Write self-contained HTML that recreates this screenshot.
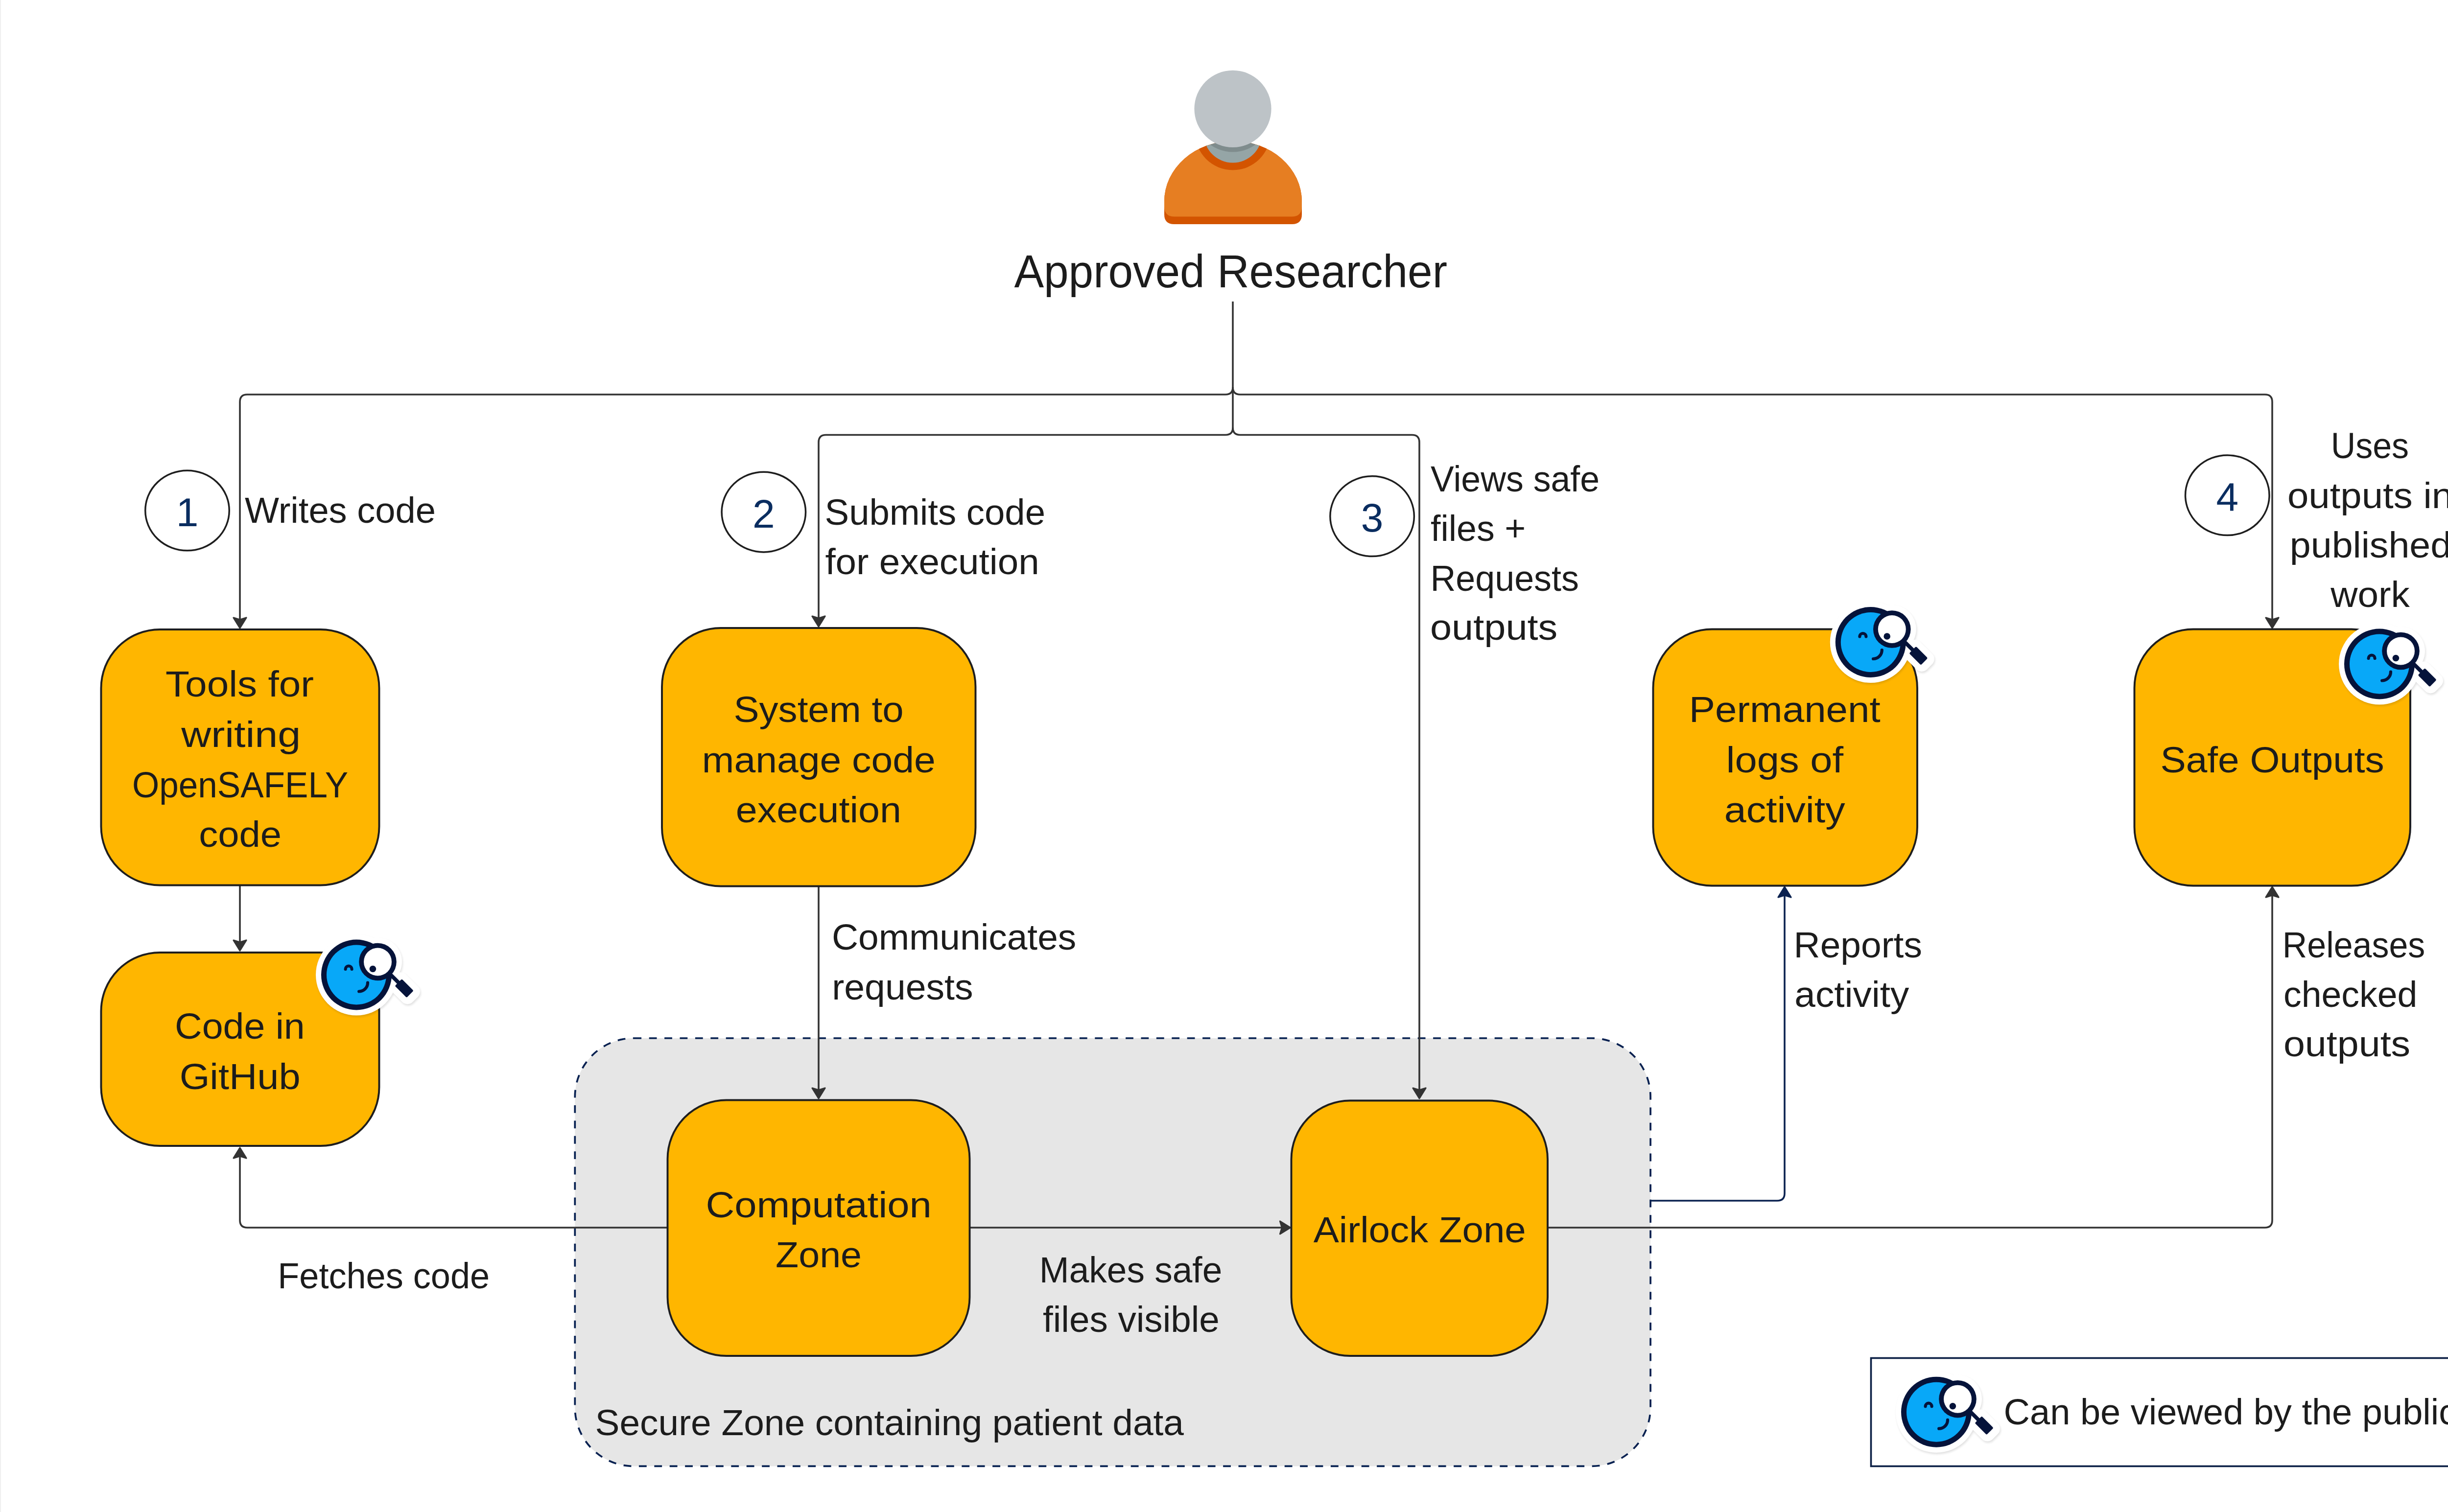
<!DOCTYPE html>
<html><head><meta charset="utf-8"><style>
html,body{margin:0;padding:0;background:#FFFFFF;}
body{width:5178px;height:3089px;overflow:hidden;position:relative;}
svg{position:absolute;left:0;top:0;}
text{font-family:"Liberation Sans", sans-serif;}
</style></head><body>
<svg width="5178" height="3089" viewBox="0 0 5178 3089">
<defs><filter id="blur" x="-20%" y="-20%" width="140%" height="140%"><feGaussianBlur stdDeviation="2"/></filter></defs>
<rect x="0" y="0" width="2" height="3089" fill="#F0F0F0"/>
<rect x="1174.3" y="2121" width="2196.8" height="874.4" rx="120" ry="120" fill="#E6E6E6" stroke="#062050" stroke-width="3.7" stroke-dasharray="15.8 15.6"/><path d="M2518,616 V873.5 Q2518,888.5 2503,888.5" fill="none" stroke="#333333" stroke-width="3.6" stroke-linejoin="round"/><path d="M2518,873.5 Q2518,888.5 2533,888.5" fill="none" stroke="#333333" stroke-width="3.6" stroke-linejoin="round"/><path d="M2518,791 Q2518,806 2503,806 H505 Q490,806 490,821 V1272" fill="none" stroke="#333333" stroke-width="3.6" stroke-linejoin="round"/><path d="M2518,791 Q2518,806 2533,806 H4626 Q4641,806 4641,821 V1272" fill="none" stroke="#333333" stroke-width="3.6" stroke-linejoin="round"/><path d="M490.0,1283.0 L477.0,1262.0 L490.0,1266.0 L503.0,1262.0 Z" fill="#333333" stroke="#333333" stroke-width="3.2" stroke-linejoin="round"/><path d="M4641.0,1283.0 L4628.0,1262.0 L4641.0,1266.0 L4654.0,1262.0 Z" fill="#333333" stroke="#333333" stroke-width="3.2" stroke-linejoin="round"/><path d="M2503,888.5 H1687 Q1672,888.5 1672,903.5 V1270" fill="none" stroke="#333333" stroke-width="3.6" stroke-linejoin="round"/><path d="M2533,888.5 H2884 Q2899,888.5 2899,903.5 V2234" fill="none" stroke="#333333" stroke-width="3.6" stroke-linejoin="round"/><path d="M1672.0,1280.0 L1659.0,1259.0 L1672.0,1263.0 L1685.0,1259.0 Z" fill="#333333" stroke="#333333" stroke-width="3.2" stroke-linejoin="round"/><path d="M2899.0,2244.0 L2886.0,2223.0 L2899.0,2227.0 L2912.0,2223.0 Z" fill="#333333" stroke="#333333" stroke-width="3.2" stroke-linejoin="round"/><path d="M490,1810 V1932" fill="none" stroke="#333333" stroke-width="3.6" stroke-linejoin="round"/><path d="M490.0,1942.0 L477.0,1921.0 L490.0,1925.0 L503.0,1921.0 Z" fill="#333333" stroke="#333333" stroke-width="3.2" stroke-linejoin="round"/><path d="M1672,1812 V2234" fill="none" stroke="#333333" stroke-width="3.6" stroke-linejoin="round"/><path d="M1672.0,2244.0 L1659.0,2223.0 L1672.0,2227.0 L1685.0,2223.0 Z" fill="#333333" stroke="#333333" stroke-width="3.2" stroke-linejoin="round"/><path d="M1362,2508 H505 Q490,2508 490,2493 V2354" fill="none" stroke="#333333" stroke-width="3.6" stroke-linejoin="round"/><path d="M490.0,2345.0 L477.0,2366.0 L490.0,2362.0 L503.0,2366.0 Z" fill="#333333" stroke="#333333" stroke-width="3.2" stroke-linejoin="round"/><path d="M1981,2508 H2626" fill="none" stroke="#333333" stroke-width="3.6" stroke-linejoin="round"/><path d="M2635.5,2508.0 L2614.5,2495.0 L2618.5,2508.0 L2614.5,2521.0 Z" fill="#333333" stroke="#333333" stroke-width="3.2" stroke-linejoin="round"/><path d="M3161,2508 H4626 Q4641,2508 4641,2493 V1822" fill="none" stroke="#333333" stroke-width="3.6" stroke-linejoin="round"/><path d="M4641.0,1812.0 L4628.0,1833.0 L4641.0,1829.0 L4654.0,1833.0 Z" fill="#333333" stroke="#333333" stroke-width="3.2" stroke-linejoin="round"/><path d="M3373,2453 H3630 Q3645,2453 3645,2438 V1822" fill="none" stroke="#0B2250" stroke-width="3.6" stroke-linejoin="round"/><path d="M3645.0,1812.0 L3632.0,1833.0 L3645.0,1829.0 L3658.0,1833.0 Z" fill="#0B2250" stroke="#0B2250" stroke-width="3.2" stroke-linejoin="round"/><ellipse cx="382.5" cy="1043" rx="85.75" ry="81.85" fill="#FFFFFF" stroke="#1E1E1E" stroke-width="3.5"/><ellipse cx="1559.8" cy="1046.1" rx="85.75" ry="81.85" fill="#FFFFFF" stroke="#1E1E1E" stroke-width="3.5"/><ellipse cx="2802.6" cy="1054.7" rx="85.75" ry="81.85" fill="#FFFFFF" stroke="#1E1E1E" stroke-width="3.5"/><ellipse cx="4549.3" cy="1011.75" rx="85.75" ry="81.85" fill="#FFFFFF" stroke="#1E1E1E" stroke-width="3.5"/><rect x="206.5" y="1286" width="568.0" height="522.5" rx="120" ry="120" fill="#FFB600" stroke="#1E1E1E" stroke-width="3.9"/><rect x="206.5" y="1946" width="568.0" height="395" rx="120" ry="120" fill="#FFB600" stroke="#1E1E1E" stroke-width="3.9"/><rect x="1352" y="1283" width="640.5" height="527.5" rx="120" ry="120" fill="#FFB600" stroke="#1E1E1E" stroke-width="3.9"/><rect x="3376.5" y="1285.5" width="539.5" height="524.0" rx="120" ry="120" fill="#FFB600" stroke="#1E1E1E" stroke-width="3.9"/><rect x="4359.5" y="1285.5" width="563.5" height="524.0" rx="120" ry="120" fill="#FFB600" stroke="#1E1E1E" stroke-width="3.9"/><rect x="1363.5" y="2247.5" width="617.0" height="522.5" rx="120" ry="120" fill="#FFB600" stroke="#1E1E1E" stroke-width="3.9"/><rect x="2637.5" y="2248.5" width="523.5" height="521.5" rx="120" ry="120" fill="#FFB600" stroke="#1E1E1E" stroke-width="3.9"/><rect x="3821.5" y="2774.5" width="1243.3" height="221.0" fill="#FFFFFF" stroke="#0B1F45" stroke-width="3.6"/><text x="2071.40" y="586.5" font-size="94" fill="#1C1C1C" textLength="884.59" lengthAdjust="spacingAndGlyphs">Approved Researcher</text><text x="500.00" y="1068.0" font-size="74" fill="#1C1C1C" textLength="390.05" lengthAdjust="spacingAndGlyphs">Writes code</text><text x="1684.54" y="1071.8" font-size="74" fill="#1C1C1C" textLength="450.55" lengthAdjust="spacingAndGlyphs">Submits code</text><text x="1685.40" y="1172.8" font-size="74" fill="#1C1C1C" textLength="437.26" lengthAdjust="spacingAndGlyphs">for execution</text><text x="2921.99" y="1004.0" font-size="74" fill="#1C1C1C" textLength="345.04" lengthAdjust="spacingAndGlyphs">Views safe</text><text x="2921.99" y="1105.0" font-size="74" fill="#1C1C1C" textLength="194.27" lengthAdjust="spacingAndGlyphs">files +</text><text x="2921.43" y="1206.5" font-size="74" fill="#1C1C1C" textLength="303.45" lengthAdjust="spacingAndGlyphs">Requests</text><text x="2920.94" y="1307.3" font-size="74" fill="#1C1C1C" textLength="260.37" lengthAdjust="spacingAndGlyphs">outputs</text><text x="4760.76" y="935.5" font-size="74" fill="#1C1C1C" textLength="159.35" lengthAdjust="spacingAndGlyphs">Uses</text><text x="4671.93" y="1037.8" font-size="74" fill="#1C1C1C" textLength="338.19" lengthAdjust="spacingAndGlyphs">outputs in</text><text x="4676.84" y="1139.0" font-size="74" fill="#1C1C1C" textLength="330.33" lengthAdjust="spacingAndGlyphs">published</text><text x="4760.21" y="1240.0" font-size="74" fill="#1C1C1C" textLength="161.63" lengthAdjust="spacingAndGlyphs">work</text><text x="337.99" y="1423.3" font-size="74" fill="#1C1C1C" textLength="302.98" lengthAdjust="spacingAndGlyphs">Tools for</text><text x="370.21" y="1525.7" font-size="74" fill="#1C1C1C" textLength="243.94" lengthAdjust="spacingAndGlyphs">writing</text><text x="269.96" y="1628.9" font-size="74" fill="#1C1C1C" textLength="441.08" lengthAdjust="spacingAndGlyphs">OpenSAFELY</text><text x="406.26" y="1730.0" font-size="74" fill="#1C1C1C" textLength="168.65" lengthAdjust="spacingAndGlyphs">code</text><text x="357.06" y="2122.1" font-size="74" fill="#1C1C1C" textLength="265.66" lengthAdjust="spacingAndGlyphs">Code in</text><text x="366.67" y="2225.2" font-size="74" fill="#1C1C1C" textLength="246.85" lengthAdjust="spacingAndGlyphs">GitHub</text><text x="1498.51" y="1475.4" font-size="74" fill="#1C1C1C" textLength="347.14" lengthAdjust="spacingAndGlyphs">System to</text><text x="1433.89" y="1578.4" font-size="74" fill="#1C1C1C" textLength="476.81" lengthAdjust="spacingAndGlyphs">manage code</text><text x="1502.71" y="1679.8" font-size="74" fill="#1C1C1C" textLength="338.17" lengthAdjust="spacingAndGlyphs">execution</text><text x="3449.67" y="1474.5" font-size="74" fill="#1C1C1C" textLength="391.10" lengthAdjust="spacingAndGlyphs">Permanent</text><text x="3525.49" y="1577.8" font-size="74" fill="#1C1C1C" textLength="239.70" lengthAdjust="spacingAndGlyphs">logs of</text><text x="3521.73" y="1679.5" font-size="74" fill="#1C1C1C" textLength="246.82" lengthAdjust="spacingAndGlyphs">activity</text><text x="4412.55" y="1578.1" font-size="74" fill="#1C1C1C" textLength="457.13" lengthAdjust="spacingAndGlyphs">Safe Outputs</text><text x="1698.94" y="1940.0" font-size="74" fill="#1C1C1C" textLength="499.30" lengthAdjust="spacingAndGlyphs">Communicates</text><text x="1699.28" y="2042.2" font-size="74" fill="#1C1C1C" textLength="288.23" lengthAdjust="spacingAndGlyphs">requests</text><text x="1441.50" y="2487.1" font-size="74" fill="#1C1C1C" textLength="461.17" lengthAdjust="spacingAndGlyphs">Computation</text><text x="1584.11" y="2589.4" font-size="74" fill="#1C1C1C" textLength="175.95" lengthAdjust="spacingAndGlyphs">Zone</text><text x="2122.87" y="2619.7" font-size="74" fill="#1C1C1C" textLength="373.39" lengthAdjust="spacingAndGlyphs">Makes safe</text><text x="2129.99" y="2720.9" font-size="74" fill="#1C1C1C" textLength="360.84" lengthAdjust="spacingAndGlyphs">files visible</text><text x="2682.79" y="2537.5" font-size="74" fill="#1C1C1C" textLength="434.01" lengthAdjust="spacingAndGlyphs">Airlock Zone</text><text x="1215.59" y="2932.3" font-size="74" fill="#1C1C1C" textLength="1202.35" lengthAdjust="spacingAndGlyphs">Secure Zone containing patient data</text><text x="567.27" y="2631.7" font-size="74" fill="#1C1C1C" textLength="432.84" lengthAdjust="spacingAndGlyphs">Fetches code</text><text x="3663.58" y="1956.3" font-size="74" fill="#1C1C1C" textLength="262.31" lengthAdjust="spacingAndGlyphs">Reports</text><text x="3665.34" y="2056.7" font-size="74" fill="#1C1C1C" textLength="233.81" lengthAdjust="spacingAndGlyphs">activity</text><text x="4661.83" y="1956.3" font-size="74" fill="#1C1C1C" textLength="291.44" lengthAdjust="spacingAndGlyphs">Releases</text><text x="4663.93" y="2056.7" font-size="74" fill="#1C1C1C" textLength="273.45" lengthAdjust="spacingAndGlyphs">checked</text><text x="4663.91" y="2157.9" font-size="74" fill="#1C1C1C" textLength="259.19" lengthAdjust="spacingAndGlyphs">outputs</text><text x="4092.58" y="2909.5" font-size="74" fill="#1C1C1C" textLength="925.61" lengthAdjust="spacingAndGlyphs">Can be viewed by the public</text><text x="382.5" y="1074.7" text-anchor="middle" font-size="82" fill="#0A2D60">1</text><text x="1559.8" y="1077.8" text-anchor="middle" font-size="82" fill="#0A2D60">2</text><text x="2802.6" y="1086.4" text-anchor="middle" font-size="82" fill="#0A2D60">3</text><text x="4549.3" y="1043.5" text-anchor="middle" font-size="82" fill="#0A2D60">4</text>
<defs>
 <clipPath id="bodyclip"><path d="M2378,458 V411.7 A140.5,123.7 0 0 1 2659,411.7 V458 Z"/></clipPath>
 <clipPath id="neckclip"><circle cx="2518" cy="273" r="59.5"/></clipPath>
</defs>
<path d="M2378,438 V411.7 A140.5,123.7 0 0 1 2659,411.7 V438 Q2659,458 2639,458 H2398 Q2378,458 2378,438 Z" fill="#D35400"/>
<path d="M2378,422 V411.7 A140.5,123.7 0 0 1 2659,411.7 V422 Q2659,442.5 2638.5,442.5 H2398.5 Q2378,442.5 2378,422 Z" fill="#E67E22"/>
<g clip-path="url(#bodyclip)">
 <circle cx="2518" cy="270.5" r="77" fill="#D35400"/>
 <circle cx="2518" cy="273" r="59.5" fill="#95A5A6"/>
 <g clip-path="url(#neckclip)"><circle cx="2518" cy="232" r="78.6" fill="#7F8C8D"/></g>
</g>
<circle cx="2518" cy="222.3" r="78.6" fill="#BDC3C7"/>
<g transform="translate(728,1991.5) scale(1.0)"><g fill="#000" opacity="0.12" transform="translate(1.5,3)" filter="url(#blur)"><circle cx="0" cy="0" r="83"/><circle cx="43.5" cy="-26.5" r="49.5"/><rect x="44" y="-22.5" width="64.5" height="45" rx="15" transform="translate(43.5,-26.5) rotate(45)"/></g><g fill="#FFFFFF"><circle cx="0" cy="0" r="83"/><circle cx="43.5" cy="-26.5" r="49.5"/><rect x="44" y="-22.5" width="64.5" height="45" rx="15" transform="translate(43.5,-26.5) rotate(45)"/></g><circle cx="0" cy="0" r="72" fill="#05133A"/><circle cx="0" cy="0" r="61" fill="#08A8F8"/><path d="M-22.4,-11.5 A6.5,6.5 0 0 1 -9.4,-11.5" fill="none" stroke="#05133A" stroke-width="6.2" stroke-linecap="round"/><path d="M5.2,34 A17.8,17.8 0 0 0 23,16.2" fill="none" stroke="#05133A" stroke-width="6.2" stroke-linecap="round"/><g transform="translate(43.5,-26.5) rotate(45)"><rect x="30" y="-3.9" width="32" height="7.8" fill="#05133A"/><rect x="59.5" y="-10" width="34" height="20" rx="2.5" fill="#05133A"/></g><circle cx="43.5" cy="-26.5" r="38.3" fill="#05133A"/><circle cx="43.5" cy="-26.5" r="28.5" fill="#FFFFFF"/><circle cx="33.4" cy="-12" r="6.8" fill="#05133A"/></g><g transform="translate(3820.8,1312) scale(1.0)"><g fill="#000" opacity="0.12" transform="translate(1.5,3)" filter="url(#blur)"><circle cx="0" cy="0" r="83"/><circle cx="43.5" cy="-26.5" r="49.5"/><rect x="44" y="-22.5" width="64.5" height="45" rx="15" transform="translate(43.5,-26.5) rotate(45)"/></g><g fill="#FFFFFF"><circle cx="0" cy="0" r="83"/><circle cx="43.5" cy="-26.5" r="49.5"/><rect x="44" y="-22.5" width="64.5" height="45" rx="15" transform="translate(43.5,-26.5) rotate(45)"/></g><circle cx="0" cy="0" r="72" fill="#05133A"/><circle cx="0" cy="0" r="61" fill="#08A8F8"/><path d="M-22.4,-11.5 A6.5,6.5 0 0 1 -9.4,-11.5" fill="none" stroke="#05133A" stroke-width="6.2" stroke-linecap="round"/><path d="M5.2,34 A17.8,17.8 0 0 0 23,16.2" fill="none" stroke="#05133A" stroke-width="6.2" stroke-linecap="round"/><g transform="translate(43.5,-26.5) rotate(45)"><rect x="30" y="-3.9" width="32" height="7.8" fill="#05133A"/><rect x="59.5" y="-10" width="34" height="20" rx="2.5" fill="#05133A"/></g><circle cx="43.5" cy="-26.5" r="38.3" fill="#05133A"/><circle cx="43.5" cy="-26.5" r="28.5" fill="#FFFFFF"/><circle cx="33.4" cy="-12" r="6.8" fill="#05133A"/></g><g transform="translate(4860,1356.5) scale(1.0)"><g fill="#000" opacity="0.12" transform="translate(1.5,3)" filter="url(#blur)"><circle cx="0" cy="0" r="83"/><circle cx="43.5" cy="-26.5" r="49.5"/><rect x="44" y="-22.5" width="64.5" height="45" rx="15" transform="translate(43.5,-26.5) rotate(45)"/></g><g fill="#FFFFFF"><circle cx="0" cy="0" r="83"/><circle cx="43.5" cy="-26.5" r="49.5"/><rect x="44" y="-22.5" width="64.5" height="45" rx="15" transform="translate(43.5,-26.5) rotate(45)"/></g><circle cx="0" cy="0" r="72" fill="#05133A"/><circle cx="0" cy="0" r="61" fill="#08A8F8"/><path d="M-22.4,-11.5 A6.5,6.5 0 0 1 -9.4,-11.5" fill="none" stroke="#05133A" stroke-width="6.2" stroke-linecap="round"/><path d="M5.2,34 A17.8,17.8 0 0 0 23,16.2" fill="none" stroke="#05133A" stroke-width="6.2" stroke-linecap="round"/><g transform="translate(43.5,-26.5) rotate(45)"><rect x="30" y="-3.9" width="32" height="7.8" fill="#05133A"/><rect x="59.5" y="-10" width="34" height="20" rx="2.5" fill="#05133A"/></g><circle cx="43.5" cy="-26.5" r="38.3" fill="#05133A"/><circle cx="43.5" cy="-26.5" r="28.5" fill="#FFFFFF"/><circle cx="33.4" cy="-12" r="6.8" fill="#05133A"/></g><g transform="translate(3955,2884.7) scale(1.0)"><g fill="#000" opacity="0.12" transform="translate(1.5,3)" filter="url(#blur)"><circle cx="0" cy="0" r="83"/><circle cx="43.5" cy="-26.5" r="49.5"/><rect x="44" y="-22.5" width="64.5" height="45" rx="15" transform="translate(43.5,-26.5) rotate(45)"/></g><g fill="#FFFFFF"><circle cx="0" cy="0" r="83"/><circle cx="43.5" cy="-26.5" r="49.5"/><rect x="44" y="-22.5" width="64.5" height="45" rx="15" transform="translate(43.5,-26.5) rotate(45)"/></g><circle cx="0" cy="0" r="72" fill="#05133A"/><circle cx="0" cy="0" r="61" fill="#08A8F8"/><path d="M-22.4,-11.5 A6.5,6.5 0 0 1 -9.4,-11.5" fill="none" stroke="#05133A" stroke-width="6.2" stroke-linecap="round"/><path d="M5.2,34 A17.8,17.8 0 0 0 23,16.2" fill="none" stroke="#05133A" stroke-width="6.2" stroke-linecap="round"/><g transform="translate(43.5,-26.5) rotate(45)"><rect x="30" y="-3.9" width="32" height="7.8" fill="#05133A"/><rect x="59.5" y="-10" width="34" height="20" rx="2.5" fill="#05133A"/></g><circle cx="43.5" cy="-26.5" r="38.3" fill="#05133A"/><circle cx="43.5" cy="-26.5" r="28.5" fill="#FFFFFF"/><circle cx="33.4" cy="-12" r="6.8" fill="#05133A"/></g>
</svg>
</body></html>
